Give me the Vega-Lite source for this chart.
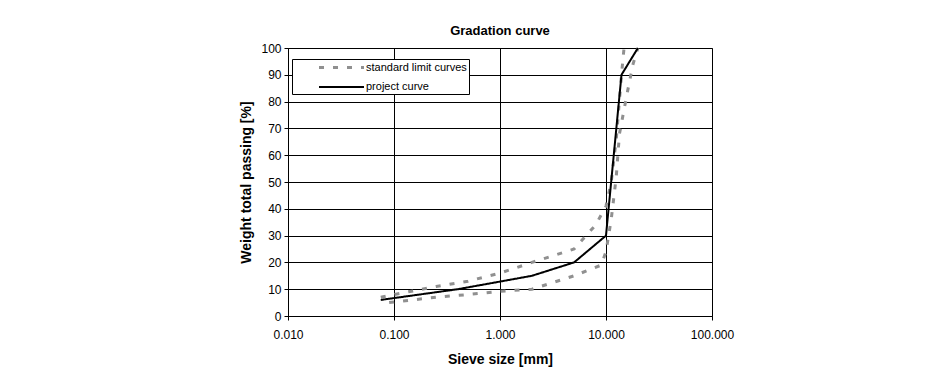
{
  "$schema": "https://vega.github.io/schema/vega-lite/v6.json",
  "width": 424,
  "height": 268,
  "autosize": {"type": "none"},
  "padding": {"left": 288, "top": 48, "right": 232, "bottom": 53},
  "background": "#ffffff",
  "title": {
    "text": "Gradation curve",
    "font": "Liberation Sans",
    "fontSize": 13,
    "fontWeight": "bold",
    "color": "#000000",
    "anchor": "middle",
    "offset": 4
  },
  "config": {
    "font": "Liberation Sans",
    "view": {"stroke": "#808080", "strokeWidth": 1},
    "axis": {
      "domainColor": "#000000",
      "domainWidth": 1,
      "tickColor": "#000000",
      "tickSize": 4,
      "gridColor": "#000000",
      "gridWidth": 1,
      "gridOpacity": 1,
      "labelColor": "#000000",
      "labelFont": "Liberation Sans",
      "labelFontSize": 12,
      "titleColor": "#000000",
      "titleFont": "Liberation Sans",
      "titleFontSize": 14,
      "titleFontWeight": "bold"
    }
  },
  "data": {
    "values": [
      {"curve": "standard limit curves", "line": "upper", "size": 0.075, "passing": 7},
      {"curve": "standard limit curves", "line": "upper", "size": 0.1, "passing": 8},
      {"curve": "standard limit curves", "line": "upper", "size": 0.25, "passing": 11},
      {"curve": "standard limit curves", "line": "upper", "size": 0.5, "passing": 13},
      {"curve": "standard limit curves", "line": "upper", "size": 1, "passing": 16},
      {"curve": "standard limit curves", "line": "upper", "size": 2, "passing": 20},
      {"curve": "standard limit curves", "line": "upper", "size": 5, "passing": 25},
      {"curve": "standard limit curves", "line": "upper", "size": 8, "passing": 34},
      {"curve": "standard limit curves", "line": "upper", "size": 10, "passing": 41},
      {"curve": "standard limit curves", "line": "upper", "size": 11.2, "passing": 50},
      {"curve": "standard limit curves", "line": "upper", "size": 12.5, "passing": 66},
      {"curve": "standard limit curves", "line": "upper", "size": 14, "passing": 90},
      {"curve": "standard limit curves", "line": "upper", "size": 14.8, "passing": 100},
      {"curve": "standard limit curves", "line": "lower", "size": 0.09, "passing": 5},
      {"curve": "standard limit curves", "line": "lower", "size": 0.25, "passing": 7},
      {"curve": "standard limit curves", "line": "lower", "size": 0.5, "passing": 8},
      {"curve": "standard limit curves", "line": "lower", "size": 1, "passing": 9.2},
      {"curve": "standard limit curves", "line": "lower", "size": 2, "passing": 10},
      {"curve": "standard limit curves", "line": "lower", "size": 5, "passing": 15},
      {"curve": "standard limit curves", "line": "lower", "size": 9, "passing": 19},
      {"curve": "standard limit curves", "line": "lower", "size": 10, "passing": 24},
      {"curve": "standard limit curves", "line": "lower", "size": 11.2, "passing": 36},
      {"curve": "standard limit curves", "line": "lower", "size": 12.5, "passing": 52},
      {"curve": "standard limit curves", "line": "lower", "size": 13.4, "passing": 68},
      {"curve": "standard limit curves", "line": "lower", "size": 16, "passing": 84},
      {"curve": "standard limit curves", "line": "lower", "size": 18, "passing": 94},
      {"curve": "standard limit curves", "line": "lower", "size": 20, "passing": 100},
      {"curve": "project curve", "line": "project", "size": 0.075, "passing": 6},
      {"curve": "project curve", "line": "project", "size": 0.4, "passing": 10},
      {"curve": "project curve", "line": "project", "size": 2, "passing": 15},
      {"curve": "project curve", "line": "project", "size": 5, "passing": 20},
      {"curve": "project curve", "line": "project", "size": 10, "passing": 30},
      {"curve": "project curve", "line": "project", "size": 14, "passing": 90},
      {"curve": "project curve", "line": "project", "size": 20, "passing": 100}
    ]
  },
  "encoding": {
    "x": {
      "field": "size",
      "type": "quantitative",
      "scale": {"type": "log", "domain": [0.01, 100]},
      "axis": {
        "title": "Sieve size [mm]",
        "values": [0.01, 0.1, 1, 10, 100],
        "format": ".3f",
        "labelFlush": false,
        "labelPadding": 9,
        "titlePadding": 12
      }
    },
    "y": {
      "field": "passing",
      "type": "quantitative",
      "scale": {"domain": [0, 100], "nice": false},
      "axis": {
        "title": "Weight total passing [%]",
        "values": [0, 10, 20, 30, 40, 50, 60, 70, 80, 90, 100],
        "labelPadding": 3,
        "titlePadding": 7
      }
    },
    "color": {
      "field": "curve",
      "type": "nominal",
      "scale": {
        "domain": ["standard limit curves", "project curve"],
        "range": ["#909090", "#000000"]
      },
      "legend": {
        "title": null,
        "orient": "none",
        "legendX": 4,
        "legendY": 11,
        "strokeColor": "#000000",
        "fillColor": "#ffffff",
        "padding": 2,
        "symbolType": "M-4.5,0H4.5",
        "symbolSize": 100,
        "symbolOffset": 41,
        "labelOffset": 18,
        "labelFont": "Liberation Sans",
        "labelFontSize": 11,
        "labelColor": "#000000",
        "rowPadding": 7
      }
    },
    "strokeDash": {
      "field": "curve",
      "type": "nominal",
      "scale": {
        "domain": ["standard limit curves", "project curve"],
        "range": [[5, 9], [1, 0]]
      }
    },
    "strokeWidth": {
      "field": "curve",
      "type": "nominal",
      "scale": {
        "domain": ["standard limit curves", "project curve"],
        "range": [3, 2]
      }
    },
    "detail": {"field": "line", "type": "nominal"}
  },
  "layer": [
    {
      "transform": [{"filter": "datum.curve === 'standard limit curves'"}],
      "mark": {"type": "line", "strokeCap": "butt"}
    },
    {
      "transform": [{"filter": "datum.curve === 'project curve'"}],
      "mark": {"type": "line", "strokeCap": "butt"}
    }
  ]
}
